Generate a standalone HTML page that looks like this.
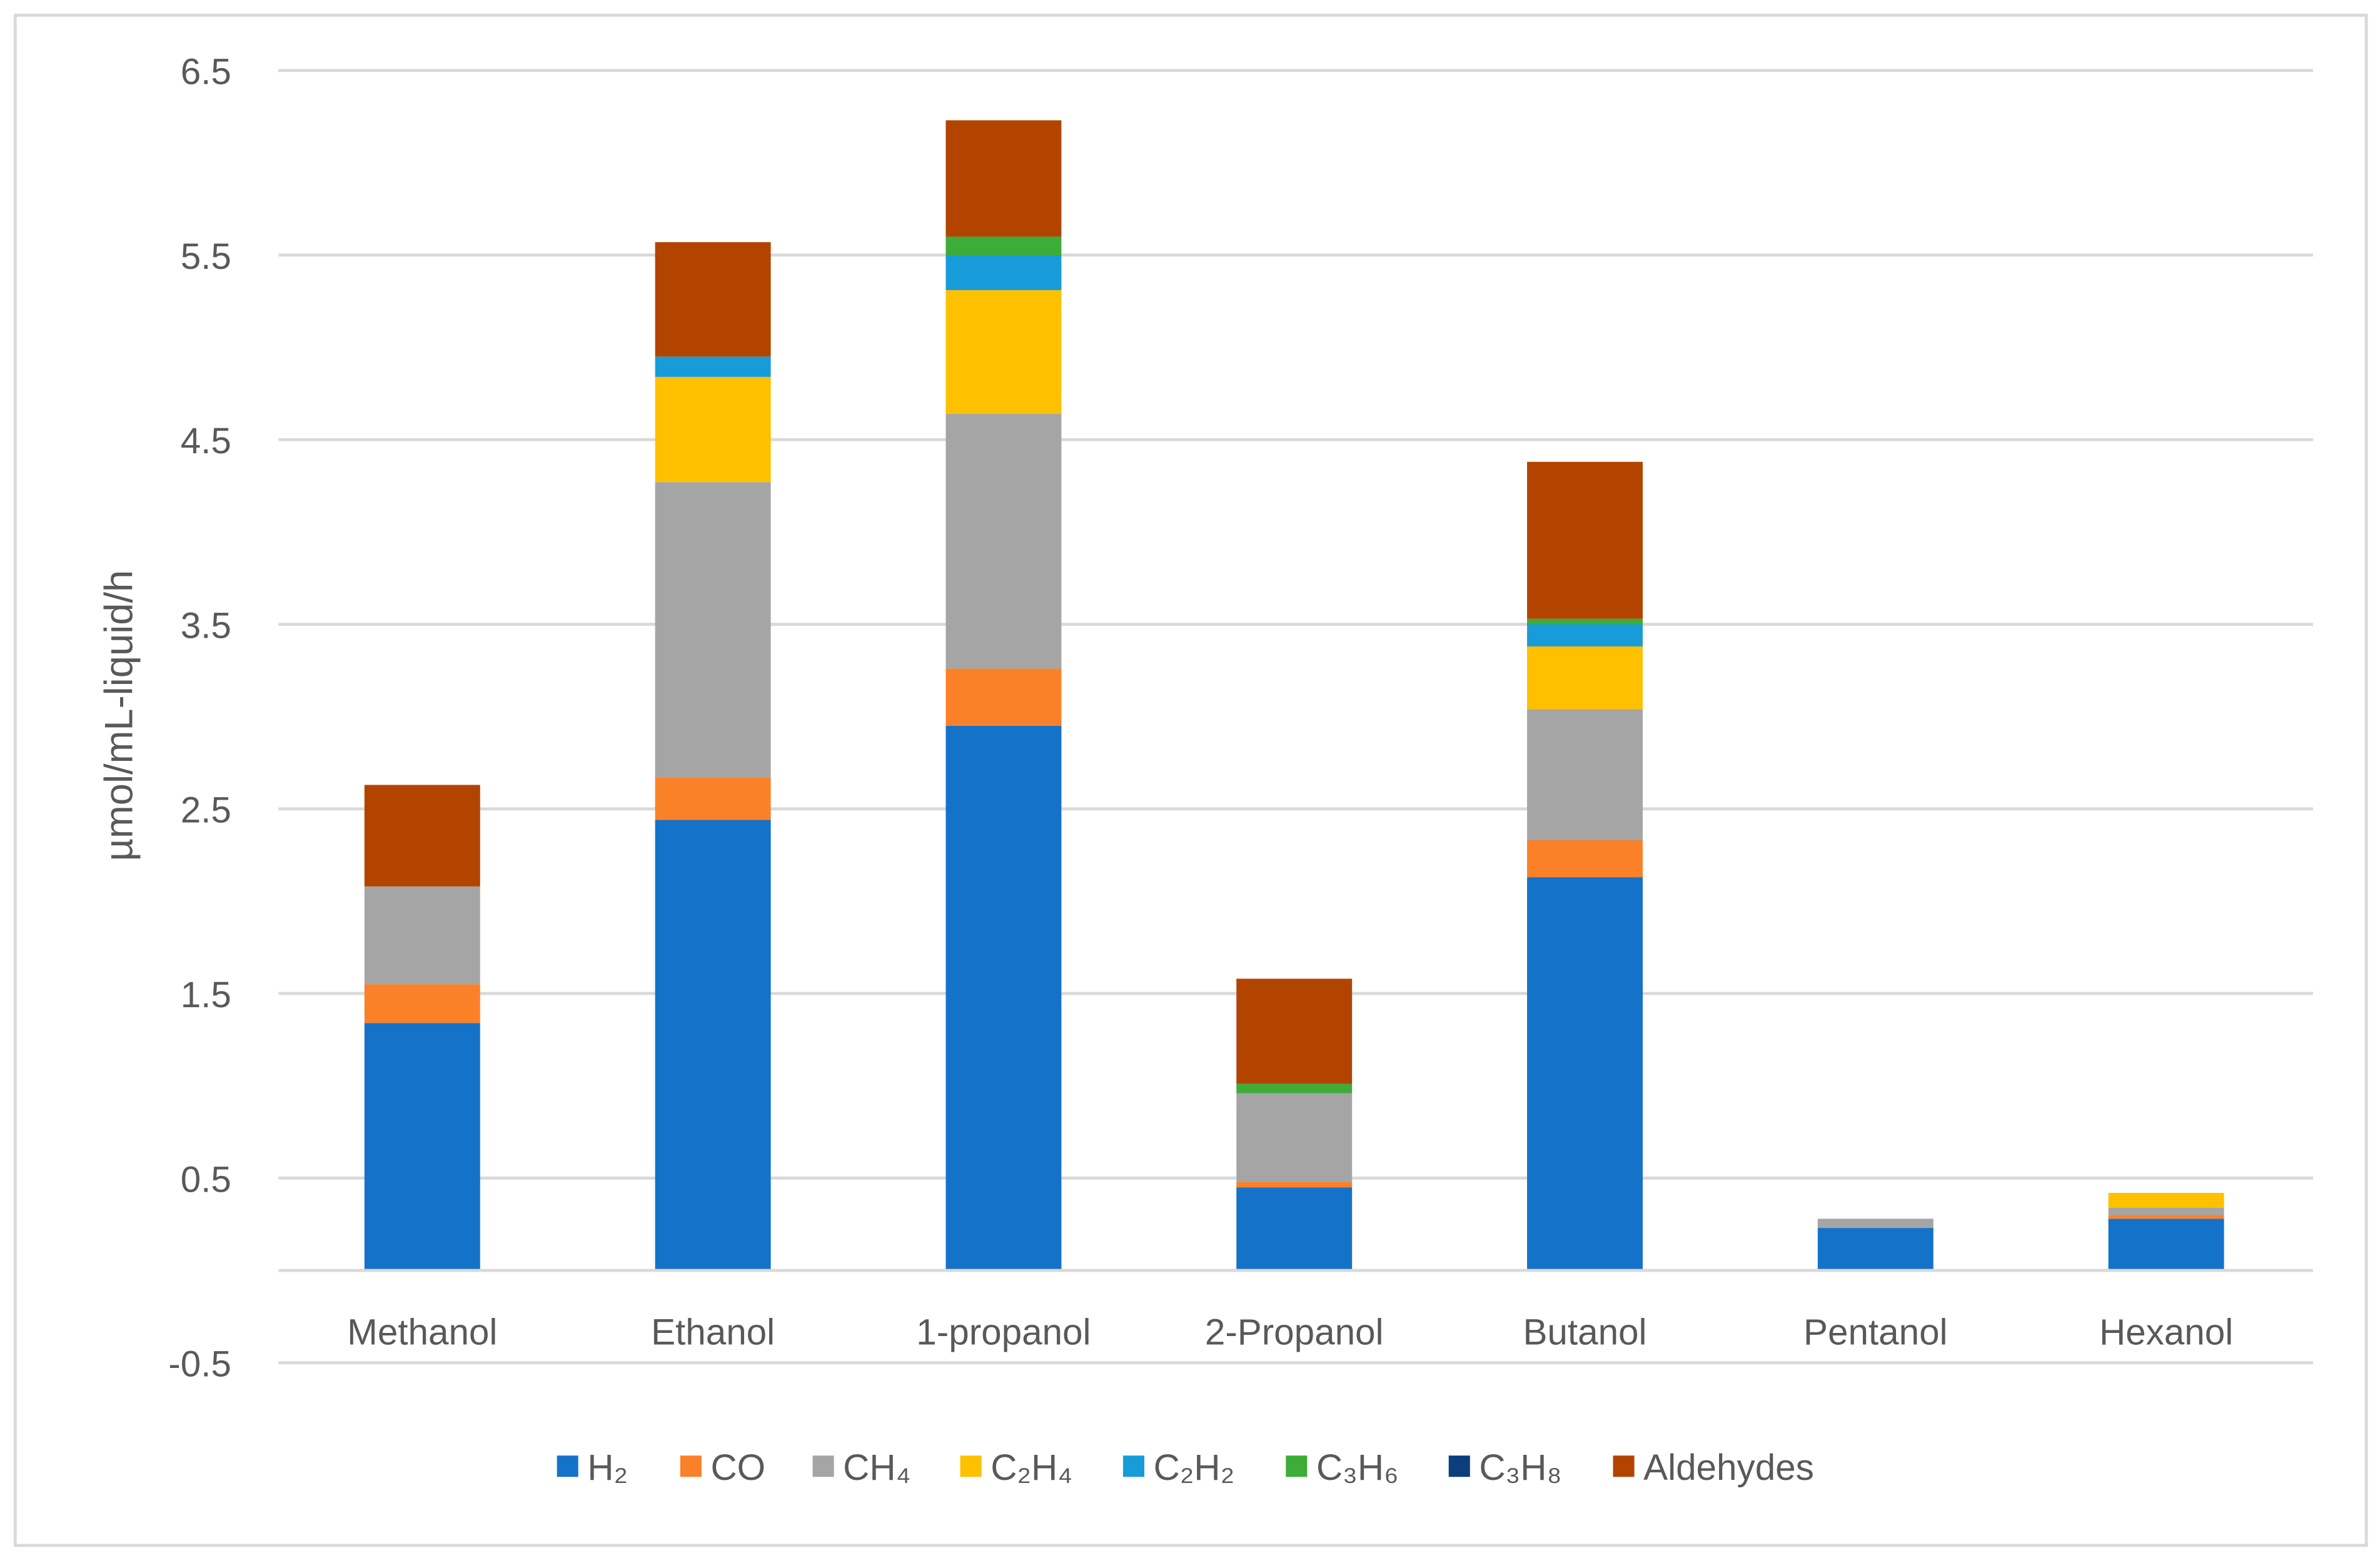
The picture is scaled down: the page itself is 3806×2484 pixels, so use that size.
<!DOCTYPE html>
<html><head><meta charset="utf-8"><style>
html,body{margin:0;padding:0;background:#fff;}
svg{display:block;font-family:"Liberation Sans",sans-serif;}
</style></head><body>
<svg id="chart" width="3806" height="2484" viewBox="0 0 1564 1020" preserveAspectRatio="none" xmlns="http://www.w3.org/2000/svg">
<rect x="10" y="10" width="1545" height="1005" fill="#fff" stroke="#d9d9d9" stroke-width="2"/>
<g id="grid"></g><g id="bars"></g><g id="axes"></g><g id="legend"></g>
<text transform="translate(87,470) rotate(-90)" text-anchor="middle" font-size="26" fill="#595959">µmol/mL-liquid/h</text>
</svg>
<script>
const categories = ["Methanol","Ethanol","1-propanol","2-Propanol","Butanol","Pentanol","Hexanol"];
const seriesNames = ["H₂","CO","CH₄","C₂H₄","C₂H₂","C₃H₆","C₃H₈","Aldehydes"];
const seriesColors = ["#1572C9","#FB8129","#A5A5A5","#FFC000","#189CD9","#3EAC38","#0C3E7E","#B34400"];
const H2 = [1.34,2.44,2.95,0.45,2.13,0.23,0.28];
const CO = [0.21,0.23,0.31,0.03,0.20,0.00,0.02];
const CH4 = [0.53,1.60,1.38,0.48,0.71,0.05,0.04];
const C2H4 = [0.00,0.57,0.67,0.00,0.34,0.00,0.08];
const C2H2 = [0.00,0.11,0.19,0.00,0.12,0.00,0.00];
const C3H6 = [0.00,0.00,0.10,0.05,0.03,0.00,0.00];
const C3H8 = [0,0,0,0,0,0,0];
const Aldehydes = [0.55,0.62,0.63,0.57,0.85,0.00,0.00];
const yTicks = [-0.5,0.5,1.5,2.5,3.5,4.5,5.5,6.5];
const series = [H2,CO,CH4,C2H4,C2H2,C3H6,C3H8,Aldehydes];

const NS="http://www.w3.org/2000/svg";
const plotL=183, plotR=1520;
const yScale = v => 834.4 - v*121.25;
const band=(plotR-plotL)/categories.length;
const xCenter = i => plotL + band*(i+0.5) - 1;
const barW=76;
function mk(tag,attrs,parent){const e=document.createElementNS(NS,tag);for(const k in attrs)e.setAttribute(k,attrs[k]);parent.appendChild(e);return e;}
const grid=document.getElementById('grid'), bars=document.getElementById('bars'), axes=document.getElementById('axes'), legend=document.getElementById('legend');
yTicks.forEach(t=>{
  const l=mk('line',{x1:plotL,x2:plotR,y1:yScale(t),y2:yScale(t),stroke:'#d9d9d9','stroke-width':2},grid);
  
  
  const tx=mk('text',{x:152,y:yScale(t)+9,'text-anchor':'end','font-size':24,fill:'#595959'},axes);
  tx.textContent=t.toFixed(1);
  
  
});
const ax=mk('line',{x1:plotL,x2:plotR,y1:yScale(0),y2:yScale(0),stroke:'#d9d9d9','stroke-width':2},axes);


categories.forEach((c,i)=>{
  let acc=0;
  series.forEach((s,k)=>{
    const v=s[i]; if(v<=0) return;
    const r=mk('rect',{x:xCenter(i)-barW/2,y:yScale(acc+v),width:barW,height:yScale(acc)-yScale(acc+v),fill:seriesColors[k]},bars);
    
    
    acc+=v;
  });
  const tx=mk('text',{x:xCenter(i),y:883,'text-anchor':'middle','font-size':24,fill:'#595959'},axes);
  tx.textContent=c;
  
  
});
const legX=[366,447,534,631,738,845,952,1060];
seriesNames.forEach((n,k)=>{
  const r=mk('rect',{x:legX[k],y:956,width:14,height:14,fill:seriesColors[k]},legend);
  
  
  const t=mk('text',{x:legX[k]+20,y:972,'font-size':24,fill:'#595959'},legend);
  t.textContent=n;
  
  
});
</script>
</body></html>
